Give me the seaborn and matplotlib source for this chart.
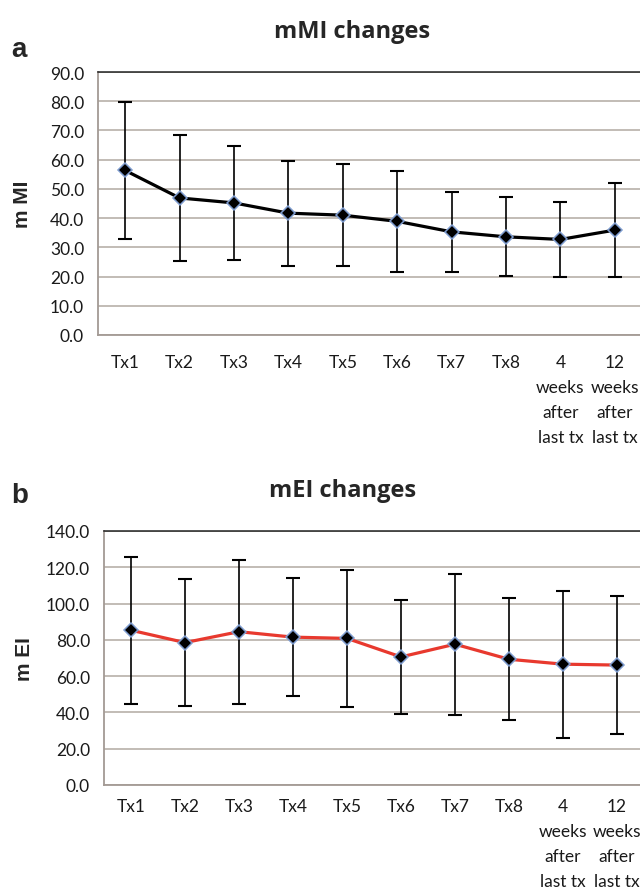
import numpy as np
import pandas as pd
import matplotlib
matplotlib.use("Agg")
import matplotlib.pyplot as plt
from matplotlib.ticker import FixedLocator, FormatStrFormatter
import seaborn as sns

# --------------------------
# Data
# --------------------------
categories = ["Tx1", "Tx2", "Tx3", "Tx4", "Tx5", "Tx6", "Tx7", "Tx8",
              "4\nweeks\nafter\nlast tx", "12\nweeks\nafter\nlast tx"]

mmi_mean = [56.3, 46.9, 45.2, 41.7, 41.0, 38.9, 35.3, 33.6, 32.7, 35.9]
mmi_sd = [23.4, 21.5, 19.6, 18.0, 17.5, 17.2, 13.7, 13.5, 12.8, 16.0]

mei_mean = [85.3, 78.5, 84.5, 81.5, 80.8, 70.6, 77.6, 69.3, 66.6, 66.1]
mei_sd = [40.5, 35.2, 39.7, 32.6, 37.7, 31.5, 38.8, 33.5, 40.5, 38.0]

mmi_ticks = [0, 10, 20, 30, 40, 50, 60, 70, 80, 90]
mei_ticks = [0, 20, 40, 60, 80, 100, 120, 140]

# --------------------------
# Style
# --------------------------
sns.set_style("white")
plt.rcParams['font.family'] = ['Lato', 'DejaVu Sans']

GRID = "#bdb6b0"
SPINE = "#a39a94"
EDGE = "#7e9ccf"

fig = plt.figure(figsize=(6.4, 8.95), dpi=100)

def panel(rect, mean, sd, ticks, line_color, ylabel, ylabel_x, xpad,
          title, title_x, title_y, letter, letter_y):
    ax = fig.add_axes(rect)
    df = pd.DataFrame({"pos": np.arange(len(categories)), "val": mean})

    ax.errorbar(df["pos"], df["val"], yerr=sd, fmt="none", ecolor="black",
                elinewidth=1.2, capsize=5, capthick=1.5, zorder=2)
    sns.lineplot(data=df, x="pos", y="val", ax=ax, color=line_color,
                 linewidth=2.3, marker="D", markersize=7.5,
                 markerfacecolor="black", markeredgecolor=EDGE,
                 markeredgewidth=1.1, zorder=3)

    ax.set_xlim(-0.5, len(categories) - 0.5)
    ax.set_ylim(ticks[0], ticks[-1])
    ax.set_yticks(ticks)
    ax.yaxis.set_major_formatter(FormatStrFormatter("%.1f"))
    ax.yaxis.grid(True, color=GRID, linewidth=1.3)
    ax.set_axisbelow(True)

    # ticks between categories, labels at the centres
    ax.xaxis.set_major_locator(FixedLocator(np.arange(len(categories) + 1) - 0.5))
    ax.xaxis.set_minor_locator(FixedLocator(np.arange(len(categories))))
    ax.set_xticklabels([""] * (len(categories) + 1))
    ax.set_xticklabels(categories, minor=True, linespacing=1.7, va="top")
    ax.tick_params(axis="x", which="major", direction="out", length=4.5,
                   width=1.1, color=SPINE)
    ax.tick_params(axis="x", which="minor", length=0, pad=xpad, labelsize=12.5,
                   labelcolor="#1a1a1a")
    ax.tick_params(axis="y", direction="out", length=5, width=1.1,
                   color=SPINE, pad=5, labelsize=12.5, labelcolor="#1a1a1a")

    ax.set_xlabel("")
    ax.set_ylabel(ylabel, fontsize=15, fontweight="bold",
                  family=["Liberation Sans", "DejaVu Sans"])
    ax.yaxis.set_label_coords(ylabel_x, 0.5)

    for s in ["left", "bottom"]:
        ax.spines[s].set_color(SPINE)
        ax.spines[s].set_linewidth(1.3)
    ax.spines["top"].set_color("#222222")
    ax.spines["top"].set_linewidth(1.1)
    ax.spines["right"].set_visible(False)

    fig.text(title_x, title_y, title, ha="center", va="baseline", fontsize=17,
             fontweight="bold", family=["Open Sans", "DejaVu Sans"])
    fig.text(0.018, letter_y, letter, ha="left", va="baseline", fontsize=20,
             fontweight="bold", family=["Liberation Sans", "DejaVu Sans"])
    return ax

panel([98 / 640, 1 - 336 / 895, 544 / 640, 263 / 895], mmi_mean, mmi_sd,
      mmi_ticks, "black", "m MI", -0.121, 13.5,
      "mMI changes", 352 / 640, 1 - 38 / 895, "a", 1 - 57 / 895)
panel([104 / 640, 1 - 786 / 895, 540 / 640, 254 / 895], mei_mean, mei_sd,
      mei_ticks, "#e8392e", "m EI", -0.13, 9.5,
      "mEI changes", 343 / 640, 1 - 497 / 895, "b", 1 - 503 / 895)

fig.savefig("out.png", dpi=100)
